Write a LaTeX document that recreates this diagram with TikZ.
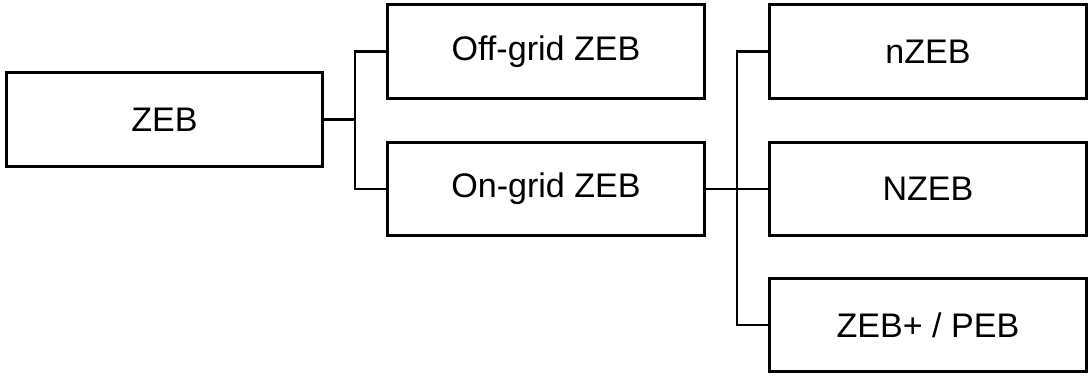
\documentclass[tikz,border=0pt]{standalone}
\usepackage{fontspec}
\setmainfont{Liberation Sans}
\usepackage{xcolor}
\usepackage{tikz}

\begin{document}
\begin{tikzpicture}[x=0.02cm,y=-0.02cm,
	caixa/.style={draw,line width=0.06cm,minimum width=6.34cm,minimum height=1.88cm,inner sep=0pt,font=\fontsize{19.4}{23}\selectfont},
	liga/.style={line width=0.045cm}]
	\useasboundingbox (0,0) rectangle (1090,376);
	
	% Caixas
	\node[caixa] (zeb) at (164.5,119.5) {ZEB};
	\node[caixa] (offgrid) at (546,51.5) {Off-grid ZEB};
	\node[caixa] (ongrid) at (546,189) {On-grid ZEB};
	\node[caixa] (nzeb) at (928,51.5) {nZEB};
	\node[caixa] (NZEB) at (928,189) {NZEB};
	\node[caixa] (peb) at (928,325) {ZEB+ / PEB};
	
	% Ligações
	\coordinate (j1) at (355,119.5);
	\coordinate (j2) at (737,189);
	\draw[liga] (zeb.east) -- (j1);
	\draw[liga] (offgrid.west) -| (j1) |- (ongrid.west);
	\draw[liga] (ongrid.east) -- (NZEB.west);
	\draw[liga] (nzeb.west) -| (j2) |- (peb.west);
\end{tikzpicture}
\end{document}
